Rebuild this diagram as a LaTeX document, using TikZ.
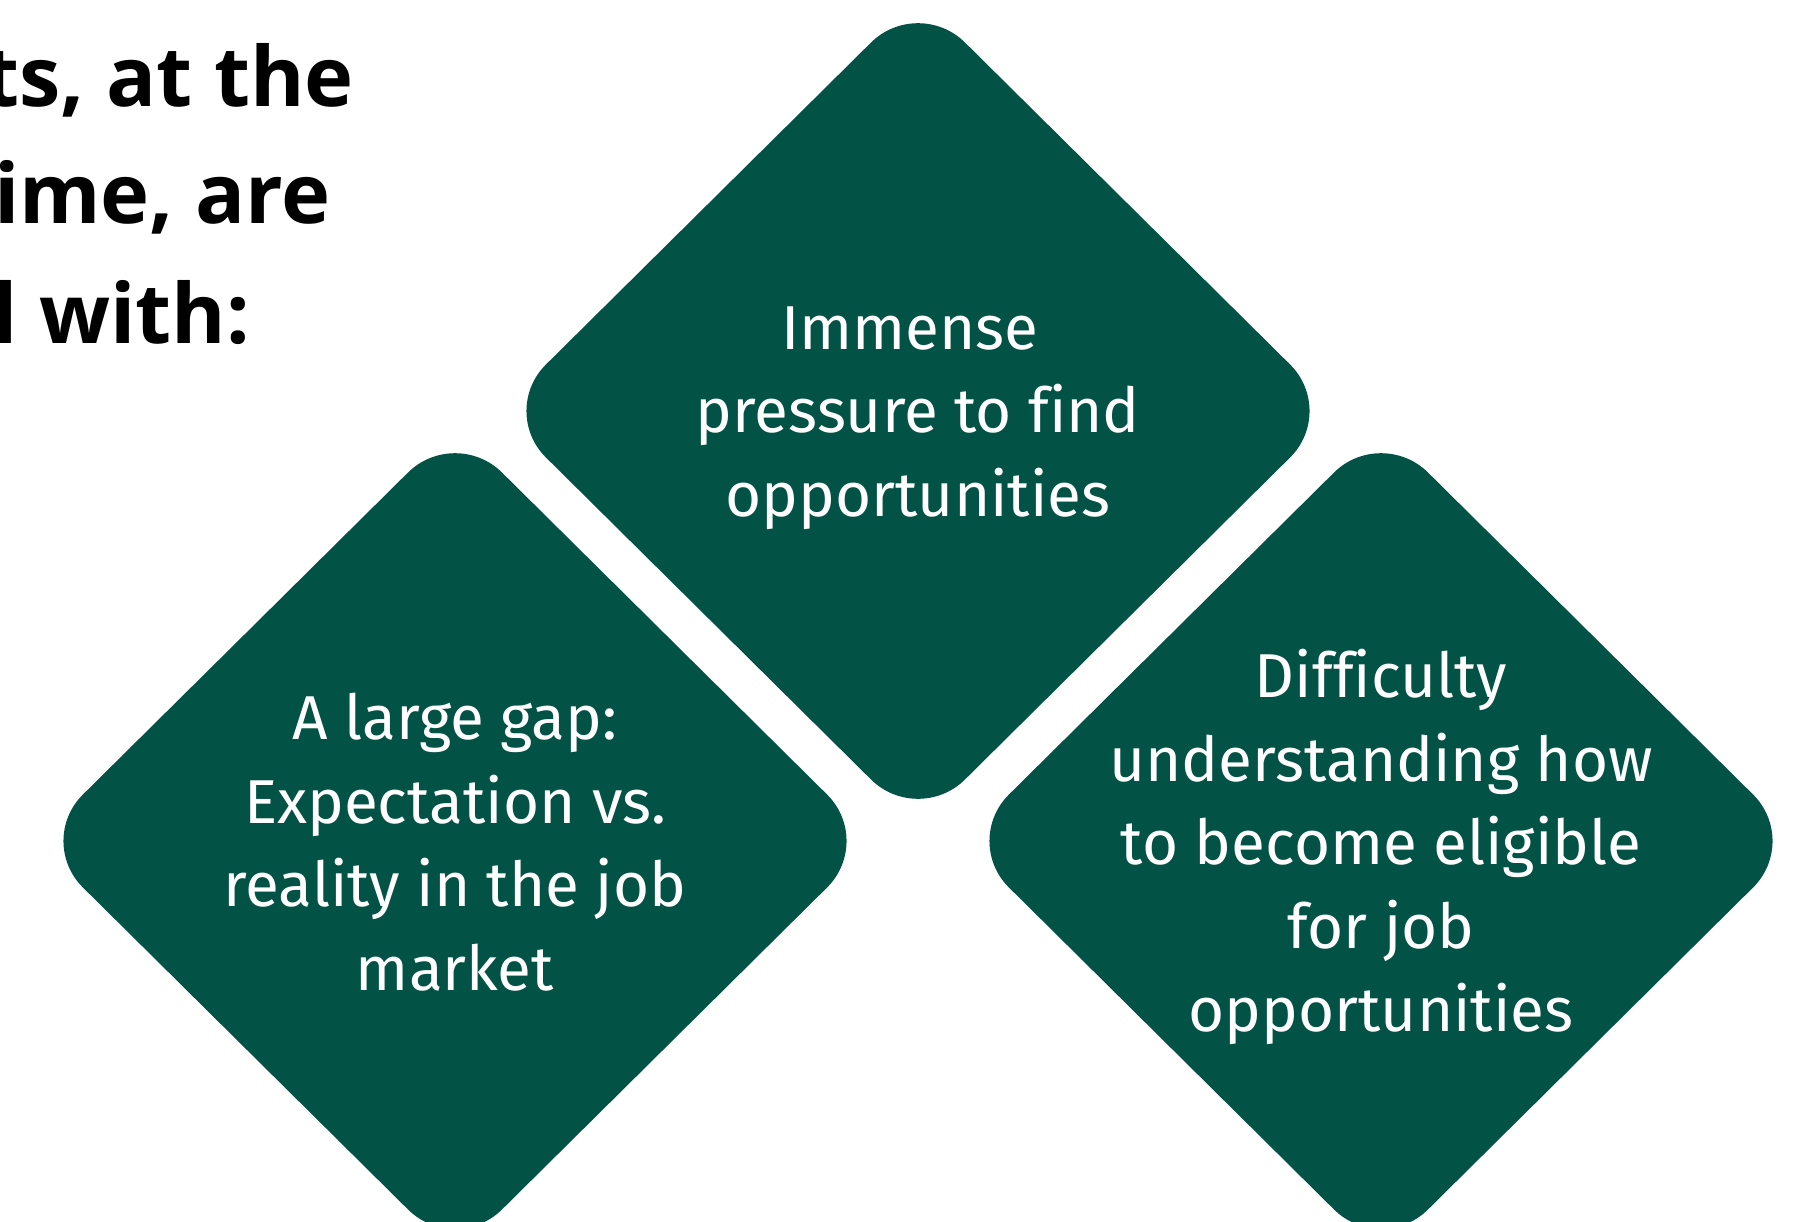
\documentclass[tikz,border=0pt]{standalone}
\usepackage{fontspec}
\setmainfont{Fira Sans}[Ligatures=NoCommon]
\newfontfamily\titlefont{Open Sans}
\definecolor{dgreen}{RGB}{2,82,69}
\begin{document}
\begin{tikzpicture}[x=1pt,y=-1pt,
  diamondbox/.style={fill=dgreen, rounded corners=66pt},
  bodytext/.style={text=white, align=center, font=\fontsize{62}{83.5}\selectfont, inner sep=0pt},
  titletext/.style={font=\titlefont\bfseries\fontsize{83}{118}\selectfont, anchor=base east, inner sep=0pt}]
\useasboundingbox (0,0) rectangle (1815,1221);
\clip (0,0) rectangle (1815,1221);
\fill[white] (0,0) rectangle (1815,1221);
% diamonds
\path[diamondbox] (918,-4) -- (1337,411) -- (918,826) -- (499,411) -- cycle;
\path[diamondbox] (455,426) -- (874,841) -- (455,1256) -- (36,841) -- cycle;
\path[diamondbox] (1381,426) -- (1800,841) -- (1381,1256) -- (962,841) -- cycle;
% texts
\node[bodytext] (t1) at (918,418) {Immense\kern16pt\\pressure to find\\opportunities};
\node[bodytext] (t2) at (455,842) {A large gap:\\Expectation vs.\\reality in the job\\market};
\node[bodytext] (t3) at (1381,847) {Difficulty\\understanding how\\to become eligible\\for job\\opportunities};
% title
\node[titletext] (h1) at (354,106) {ts, at the};
\node[titletext] (h2) at (331,223) {ime, are};
\node[titletext] (h3) at (250,343) {l with:};
\end{tikzpicture}
\end{document}
